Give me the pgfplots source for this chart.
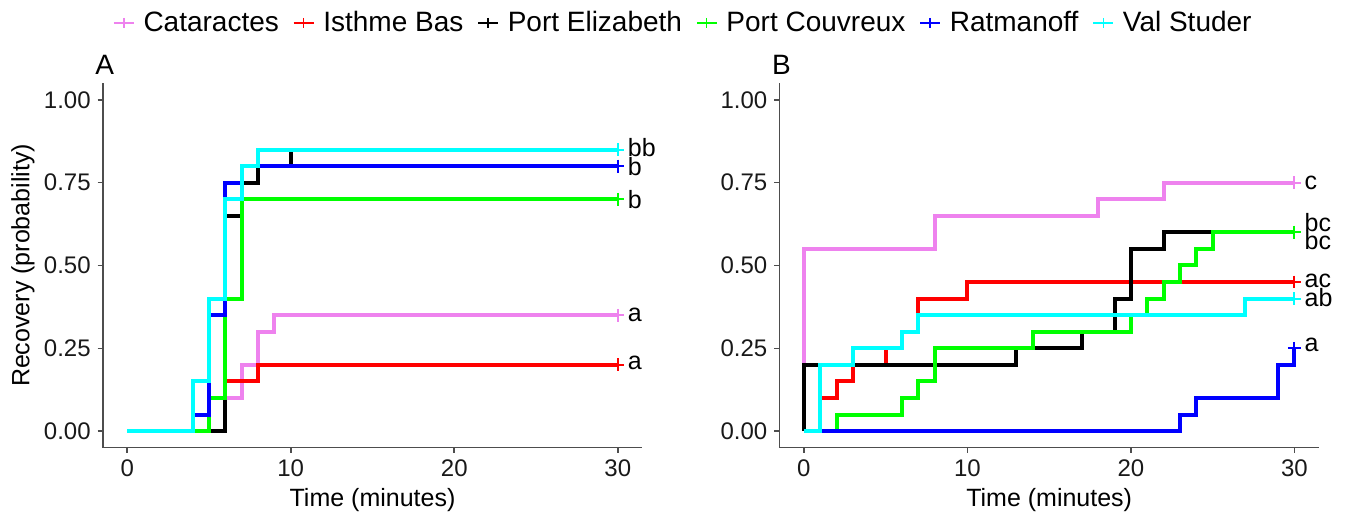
\documentclass[border=0pt]{standalone}
\usepackage{fontspec}
\setmainfont{Liberation Sans}
\usepackage{pgfplots}
\pgfplotsset{compat=1.18}

\definecolor{cviolet}{RGB}{238,130,238}
\definecolor{cred}{RGB}{255,0,0}
\definecolor{cgreen}{RGB}{0,255,0}
\definecolor{cblue}{RGB}{0,0,255}
\definecolor{ccyan}{RGB}{0,255,255}
\definecolor{axgray}{RGB}{77,77,77}

\pgfplotsset{
  km/.style={
    scale only axis, width=269.8pt, height=182.2pt,
    xmin=-1.5, xmax=31.5, ymin=-0.05, ymax=1.05,
    axis x line*=bottom, axis y line*=left,
    axis line style={axgray, line width=0.8pt, -},
    xtick={0,10,20,30}, ytick={0,0.25,0.5,0.75,1},
    yticklabel style={/pgf/number format/.cd, fixed, fixed zerofill, precision=2},
    tick style={axgray, line width=0.8pt},
    tick align=outside, major tick length=2.5pt,
    ticklabel style={font=\fontsize{12}{14}\selectfont, text=black!90},
    /pgf/number format/assume math mode=true,
    clip=false,
  },
  st/.style={const plot, line width=2pt, #1},
  cens/.style={only marks, mark=+, mark size=3.2pt, line width=1pt, #1},
}
\tikzset{lab/.style={anchor=west, inner sep=0pt, font=\fontsize{12.5}{14}\selectfont}}

\begin{document}
\begin{tikzpicture}
\path[use as bounding box] (0,0) rectangle (676pt,259pt);

% panel A
\begin{axis}[km, at={(51.35pt,35.15pt)}, anchor=south west,
  legend columns=6,
  legend style={draw=none, at={(1.077,1.1655)}, anchor=center,
    font=\fontsize{14}{16}\selectfont, nodes={inner sep=1.5pt},
    /tikz/every odd column/.append style={column sep=3pt},
    /tikz/every even column/.append style={column sep=5.5pt}},
  legend image code/.code={\draw[#1, mark repeat=2, mark phase=2] plot coordinates {(0pt,0pt)(5pt,0pt)(10pt,0pt)};},
]
\addlegendimage{cviolet, line width=0.7pt, mark=+, mark size=2.5pt}
\addlegendentry{Cataractes}
\addlegendimage{cred, line width=0.7pt, mark=+, mark size=2.5pt}
\addlegendentry{Isthme Bas}
\addlegendimage{black, line width=0.7pt, mark=+, mark size=2.5pt}
\addlegendentry{Port Elizabeth}
\addlegendimage{cgreen, line width=0.7pt, mark=+, mark size=2.5pt}
\addlegendentry{Port Couvreux}
\addlegendimage{cblue, line width=0.7pt, mark=+, mark size=2.5pt}
\addlegendentry{Ratmanoff}
\addlegendimage{ccyan, line width=0.7pt, mark=+, mark size=2.5pt}
\addlegendentry{Val Studer}

\addplot[st=cviolet, forget plot] coordinates {(0,0)(6,0.10)(7,0.20)(8,0.30)(9,0.35)(30,0.35)};
\addplot[st=cred, forget plot] coordinates {(0,0)(6,0.15)(8,0.20)(30,0.20)};
\addplot[st=black, forget plot] coordinates {(0,0)(6,0.65)(7,0.75)(8,0.80)(10,0.85)(30,0.85)};
\addplot[st=cgreen, forget plot] coordinates {(0,0)(5,0.10)(6,0.40)(7,0.70)(30,0.70)};
\addplot[st=cblue, forget plot] coordinates {(0,0)(4,0.05)(5,0.35)(6,0.75)(7,0.80)(30,0.80)};
\addplot[st=ccyan, forget plot] coordinates {(0,0)(4,0.15)(5,0.40)(6,0.70)(7,0.80)(8,0.85)(30,0.85)};

\addplot[cens=cviolet, forget plot] coordinates {(30,0.35)};
\addplot[cens=cred, forget plot] coordinates {(30,0.20)};
\addplot[cens=black, forget plot] coordinates {(30,0.85)};
\addplot[cens=cgreen, forget plot] coordinates {(30,0.70)};
\addplot[cens=cblue, forget plot] coordinates {(30,0.80)};
\addplot[cens=ccyan, forget plot] coordinates {(30,0.85)};

\node[lab] at (axis cs:30.6,0.855) {bb};
\node[lab] at (axis cs:30.6,0.80) {b};
\node[lab] at (axis cs:30.6,0.70) {b};
\node[lab] at (axis cs:30.6,0.35) {a};
\node[lab] at (axis cs:30.6,0.205) {a};
\end{axis}

% panel B
\begin{axis}[km, at={(389.65pt,35.15pt)}, anchor=south west]
\addplot[st=cviolet] coordinates {(0,0)(0,0.55)(8,0.65)(18,0.70)(22,0.75)(30,0.75)};
\addplot[st=cred] coordinates {(0,0)(1,0.10)(2,0.15)(3,0.20)(5,0.25)(6,0.30)(7,0.40)(10,0.45)(30,0.45)};
\addplot[st=black] coordinates {(0,0)(0,0.20)(13,0.25)(17,0.30)(19,0.40)(20,0.55)(22,0.60)(30,0.60)};
\addplot[st=cgreen] coordinates {(0,0)(2,0.05)(6,0.10)(7,0.15)(8,0.25)(14,0.30)(20,0.35)(21,0.40)(22,0.45)(23,0.50)(24,0.55)(25,0.60)(30,0.60)};
\addplot[st=cblue] coordinates {(0,0)(23,0.05)(24,0.10)(29,0.20)(30,0.25)};
\addplot[st=ccyan] coordinates {(0,0)(1,0.20)(3,0.25)(6,0.30)(7,0.35)(27,0.40)(30,0.40)};

\addplot[cens=cviolet] coordinates {(30,0.75)};
\addplot[cens=cred] coordinates {(30,0.45)};
\addplot[cens=black] coordinates {(30,0.60)};
\addplot[cens=cgreen] coordinates {(30,0.60)};
\addplot[cens=cblue] coordinates {(30,0.25)};
\addplot[cens=ccyan] coordinates {(30,0.40)};

\node[lab] at (axis cs:30.6,0.75) {c};
\node[lab] at (axis cs:30.6,0.63) {bc};
\node[lab] at (axis cs:30.6,0.575) {bc};
\node[lab] at (axis cs:30.6,0.454) {ac};
\node[lab] at (axis cs:30.6,0.404) {ab};
\node[lab] at (axis cs:30.6,0.26) {a};
\end{axis}

% labels and panel tags
\node[font=\fontsize{12.5}{14}\selectfont] at (186.25pt,9pt) {Time (minutes)};
\node[font=\fontsize{12.5}{14}\selectfont] at (524.6pt,9pt) {Time (minutes)};
\node[font=\fontsize{12.5}{14}\selectfont, rotate=90] at (11.5pt,126.3pt) {Recovery (probability)};
\node[font=\fontsize{14}{16}\selectfont, anchor=base west, inner sep=0pt] at (47.5pt,221.5pt) {A};
\node[font=\fontsize{14}{16}\selectfont, anchor=base west, inner sep=0pt] at (385.9pt,221.5pt) {B};
\end{tikzpicture}
\end{document}
